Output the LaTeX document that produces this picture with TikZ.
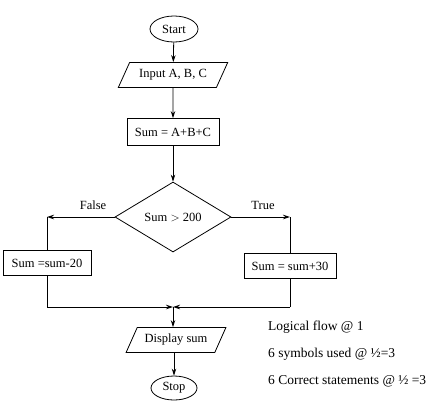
\documentclass[tikz,border=0pt]{standalone}
\usepackage{fontspec}
\setmainfont{Liberation Serif}
\usetikzlibrary{shapes.geometric,arrows.meta}
\begin{document}
\begin{tikzpicture}[x=1pt,y=-1pt,
  every node/.style={font=\fontsize{12.5}{14}\selectfont, inner sep=2pt},
  line/.style={draw=black, line width=0.8pt},
  arr/.style={line, -{Stealth[length=7pt,width=4.5pt]}},
  term/.style={line, ellipse, inner sep=0pt},
  io/.style={line, trapezium, trapezium left angle=58, trapezium right angle=122, trapezium stretches=true, minimum width=110pt, minimum height=25pt},
  proc/.style={line, rectangle, inner sep=0pt},
  dec/.style={line, diamond, aspect=1.64, minimum width=116pt, minimum height=70pt, inner sep=0pt},
  note/.style={anchor=west, font=\fontsize{13.5}{15}\selectfont}
]
\useasboundingbox (0,0) rectangle (435,410);
\node[term, minimum width=48pt, minimum height=26pt] (start) at (174,29) {Start};
\node[io] (input) at (173,75) {Input A, B, C};
\node[proc, minimum width=92pt, minimum height=27pt] (sum) at (173,132) {Sum = A+B+C};
\node[dec] (d) at (173,217) {Sum $>$ 200};
\node[proc, minimum width=88pt, minimum height=25pt] (lbox) at (47,263) {Sum =sum-20};
\node[proc, minimum width=92pt, minimum height=25pt] (rbox) at (290,266) {Sum = sum+30};
\node[io, minimum width=100pt] (disp) at (176,340) {Display sum};
\node[term, minimum width=46pt, minimum height=24pt] (stop) at (174,388) {Stop};

\node (flab) at (93,205) {False};
\node (tlab) at (263,205) {True};

\coordinate (fl) at (lbox.north |- d.west);
\coordinate (tr) at (rbox.north |- d.east);
\coordinate (m) at (173,307);
\coordinate (ml) at (lbox.south |- m);
\coordinate (mr) at (rbox.south |- m);

\draw[arr] (start) -- (input);
\draw[arr] (input) -- (sum);
\draw[arr] (sum) -- (d);
\draw[arr] (d.west) -- (fl);
\draw[line] (fl) -- (lbox.north);
\draw[arr] (d.east) -- (tr);
\draw[line] (tr) -- (rbox.north);
\draw[line] (lbox.south) -- (ml);
\draw[arr] (ml) -- (m);
\draw[line] (rbox.south) -- (mr);
\draw[arr] (mr) -- (m);
\draw[arr] (m) -- (m |- disp.north);
\draw[arr] (disp.south -| stop) -- (stop);

\node[note] (n1) at (266,327) {Logical flow @ 1};
\node[note] (n2) at (266,354) {6 symbols used @ ½=3};
\node[note] (n3) at (266,381) {6 Correct statements @ ½ =3};
\end{tikzpicture}
\end{document}
